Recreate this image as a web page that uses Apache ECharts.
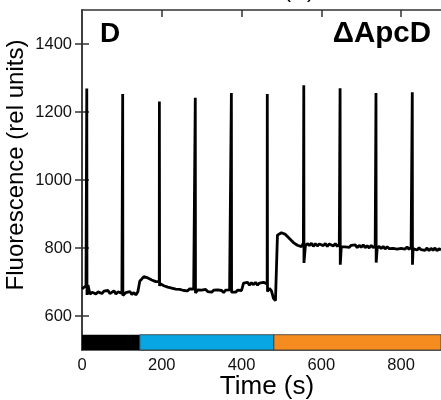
<!DOCTYPE html>
<html>
<head>
<meta charset="utf-8">
<script src="https://cdn.jsdelivr.net/npm/echarts@6/dist/echarts.min.js"></script>
<style>
  html, body { margin: 0; padding: 0; background: #fff; }
  #chart { width: 441px; height: 400px; }
</style>
</head>
<body>
<div id="chart"></div>
<script>
// ---- data ----
// fluorescence trace sampled every 5 s from 0 to 900 s
var traceStep = 5;
var traceValues = [
  680,685,689,691,664,670,673,665,671,674,
  666,673,668,675,666,671,674,665,671,673,
  667,663,669,664,672,663,669,662,671,703,
  709,716,719,712,713,706,708,701,702,696,
  695,689,690,685,687,682,684,679,681,678,
  680,675,679,674,680,675,679,673,677,673,
  676,671,678,672,677,670,676,671,677,672,
  675,669,676,671,677,670,675,670,676,671,
  675,697,692,699,691,698,692,699,691,697,
  692,699,694,690,681,674,652,645,838,843,
  845,848,840,838,828,826,816,816,808,810,
  804,814,806,813,807,814,805,813,806,812,
  815,807,813,805,812,810,806,813,805,811,
  804,809,803,808,802,808,803,809,801,808,
  802,809,801,807,800,808,801,807,799,805,
  798,805,797,804,798,803,799,804,797,802,
  799,804,797,803,796,802,798,803,794,801,
  795,799,793,800,792,799,793,800,792,798,
  794
];
// saturating light pulses
var spikeTimes = [12, 102, 194, 284, 374.5, 464.5, 556, 647, 737, 828];
var spikePeaks = [1269, 1253, 1231, 1242, 1256, 1253, 1279, 1270, 1256, 1258];
var spikeDips  = [662, 660, 688, 668, 666, 672, 756, 751, 757, 751];
// light regime bar (dark / blue / orange)
var phaseNames = ['dark', 'blue', 'orange'];
var phaseStart = [0, 145, 481];
var phaseEnd   = [145, 481, 900];
var xTicks = [0, 200, 400, 600, 800];
var yTicks = [600, 800, 1000, 1200, 1400];
var xRange = [0, 900];
var yRange = [500, 1500];
var barTop = 545;

// ---- build series ----
var pts = [];
for (var i = 0; i < traceValues.length; i++) pts.push([i * traceStep, traceValues[i]]);
for (var k = 0; k < spikeTimes.length; k++) {
  // level of the trace just before the pulse (last sample before it)
  var prevIdx = Math.floor(spikeTimes[k] / traceStep);
  if (prevIdx * traceStep === spikeTimes[k]) prevIdx -= 1;
  pts.push([spikeTimes[k] - 0.3, traceValues[prevIdx]]);
  pts.push([spikeTimes[k], spikePeaks[k]]);
  pts.push([spikeTimes[k] + 0.5, spikeDips[k]]);
}
pts.sort(function (a, b) { return a[0] - b[0]; });

var phaseColors = ['#000000', '#08A7E3', '#F68B1F'];
var areas = [];
for (var p = 0; p < phaseNames.length; p++) {
  areas.push([
    { name: phaseNames[p], xAxis: phaseStart[p], yAxis: yRange[0],
      itemStyle: { color: phaseColors[p], borderColor: '#333', borderWidth: p === 0 ? 0 : 0.8 } },
    { xAxis: phaseEnd[p], yAxis: barTop }
  ]);
}

var FONT = '"Liberation Sans", Arial, sans-serif';
var axisCol = '#333';
var plain = function (v) { return String(v); };

var chart = echarts.init(document.getElementById('chart'), null, { renderer: 'canvas' });
chart.setOption({
  animation: false,
  backgroundColor: '#ffffff',
  grid: { left: 82, right: 0, top: 10, bottom: 50 },
  xAxis: [
    {
      type: 'value', min: xRange[0], max: xRange[1], interval: 200,
      axisLine: { show: true, lineStyle: { color: axisCol, width: 1.5 } },
      axisTick: { show: false },
      splitLine: { show: false },
      axisLabel: { customValues: xTicks, formatter: plain, margin: 7, color: '#111', fontSize: 16.5, fontFamily: FONT }
    },
    {
      type: 'value', position: 'top', min: xRange[0], max: xRange[1], interval: 200,
      axisLine: { show: true, lineStyle: { color: axisCol, width: 1.5 } },
      axisTick: { show: true, inside: true, length: 7, customValues: [200, 400, 600, 800], lineStyle: { color: axisCol, width: 1.5 } },
      axisLabel: { show: false },
      splitLine: { show: false }
    }
  ],
  yAxis: [
    {
      type: 'value', min: yRange[0], max: yRange[1], interval: 100,
      axisLine: { show: true, lineStyle: { color: axisCol, width: 1.5 } },
      axisTick: { show: true, inside: true, length: 7, customValues: yTicks, lineStyle: { color: axisCol, width: 1.5 } },
      axisLabel: { customValues: yTicks, formatter: plain, margin: 10, color: '#111', fontSize: 16.5, fontFamily: FONT },
      splitLine: { show: false }
    },
    {
      type: 'value', position: 'right', min: yRange[0], max: yRange[1], interval: 100,
      axisLine: { show: true, lineStyle: { color: axisCol, width: 1.5 } },
      axisTick: { show: true, inside: true, length: 7, customValues: yTicks, lineStyle: { color: axisCol, width: 1.5 } },
      axisLabel: { show: false },
      splitLine: { show: false }
    }
  ],
  series: [
    {
      type: 'line',
      data: pts,
      showSymbol: false,
      symbol: 'none',
      lineStyle: { color: '#000', width: 2.8, join: 'bevel' },
      markArea: { silent: true, label: { show: false }, data: areas }
    }
  ],
  graphic: [
    { type: 'text', x: 100, y: 20,
      style: { text: 'D', font: 'bold 28px ' + FONT, fill: '#000', textAlign: 'left', textVerticalAlign: 'top' } },
    { type: 'text', x: 431, y: 19,
      style: { text: 'ΔApcD', font: 'bold 29.5px ' + FONT, fill: '#000', textAlign: 'right', textVerticalAlign: 'top' } },
    { type: 'text', x: 299, y: -20,
      style: { text: '(D)', font: '22px ' + FONT, fill: '#000', textAlign: 'center', textVerticalAlign: 'top' } },
    { type: 'text', x: 16.5, y: 165, rotation: Math.PI / 2,
      style: { text: 'Fluorescence (rel units)', font: '24px ' + FONT, fill: '#000', textAlign: 'center', textVerticalAlign: 'middle' } },
    { type: 'text', x: 267, y: 387,
      style: { text: 'Time (s)', font: '26px ' + FONT, fill: '#000', textAlign: 'center', textVerticalAlign: 'middle' } }
  ]
});
</script>
</body>
</html>
